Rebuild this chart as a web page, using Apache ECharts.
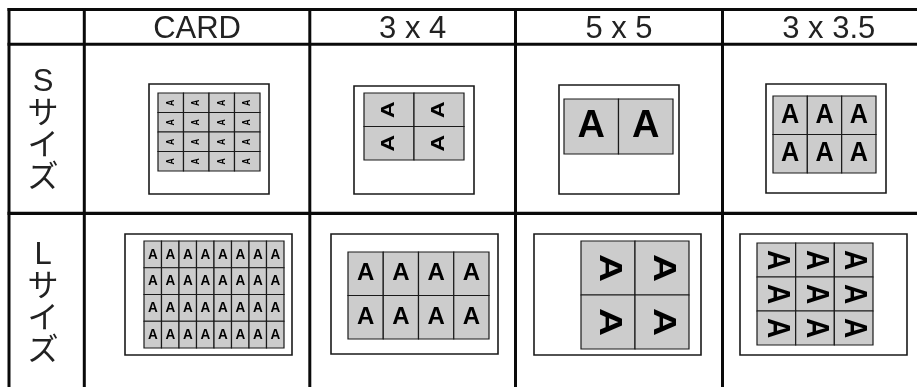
<!DOCTYPE html>
<html><head><meta charset="utf-8">
<script src="https://cdn.jsdelivr.net/npm/echarts@6/dist/echarts.min.js"></script>
<style>html,body{margin:0;padding:0;background:#fff}#c{width:917px;height:387px}</style>
</head><body><div id="c"></div>
<script>
// ---------------- data ----------------
const columnLabels = ['CARD', '3 x 4', '5 x 5', '3 x 3.5'];
const rowLabels = ['Sサイズ', 'Lサイズ'];
// photos per sheet (across x down) and letter turn for the S sheet
const smallAcross = [4, 2, 2, 3];
const smallDown   = [4, 2, 1, 2];
const smallTurn   = [90, 90, 0, 0];
// photos per sheet and letter turn for the L sheet
const largeAcross = [8, 4, 2, 3];
const largeDown   = [4, 2, 2, 3];
const largeTurn   = [0, 0, -90, -90];
const photoLetter = 'A';

// ---------------- layout (positions / sizes / styles) ----------------
const colEdges = [9, 84.3, 309.8, 515.5, 722.5, 935];
const rowEdges = [9.5, 44.2, 213.3, 390];
const paperBox = [
  [[149, 84, 269, 194], [354, 86, 474, 194], [559, 85, 679, 194], [766, 84, 886, 193]],
  [[125, 234, 292, 355], [331, 234, 498, 354], [534, 234, 701, 355], [740, 234, 907, 355]]
];
const gridBox = [
  [[158, 93, 260, 171], [364, 93, 464, 160], [564, 99, 673, 154], [773, 96, 876, 173]],
  [[144, 241, 284, 348], [348, 252, 489, 339], [581, 241, 689, 349], [757, 243, 873, 345]]
];
const letterFont = [[11, 23, 38, 28], [15, 24, 39, 28]];
const letterScale = [
  [[0.8, 1], [1, 0.79], [1, 1], [0.9, 1]],
  [[0.9, 1], [1, 1], [1, 0.79], [1, 1.1]]
];
const LATIN = "'Liberation Sans', Arial, sans-serif";
const MIXED = "'Liberation Sans', 'Noto Sans CJK JP', sans-serif";

// ---------------- build series data ----------------
const cellData = [];
for (let c = 0; c < columnLabels.length; c++) {
  cellData.push([0, c, smallAcross[c], smallDown[c], smallTurn[c]]);
  cellData.push([1, c, largeAcross[c], largeDown[c], largeTurn[c]]);
}
const headerData = columnLabels.map((t, i) => [i]);
const rowData = rowLabels.map((t, i) => [i]);

function renderFrame(params, api) {
  const kids = [];
  const right = api.coord([917, 0])[0];
  const bottom = api.coord([0, 387])[1];
  const lw = [3, 3, 3.2];
  for (let i = 0; i < 3; i++) {
    const y = api.coord([0, rowEdges[i]])[1];
    const x0 = api.coord([colEdges[0] - 1.5, 0])[0];
    kids.push({type: 'line', shape: {x1: x0, y1: y, x2: right, y2: y},
      style: {stroke: '#0a0a0a', lineWidth: lw[i]}});
  }
  for (let i = 0; i < 5; i++) {
    const x = api.coord([colEdges[i], 0])[0];
    const y0 = api.coord([0, rowEdges[0] - 1.5])[1];
    kids.push({type: 'line', shape: {x1: x, y1: y0, x2: x, y2: bottom},
      style: {stroke: '#0a0a0a', lineWidth: 3}});
  }
  return {type: 'group', children: kids};
}

function renderHeader(params, api) {
  const i = api.value(0);
  const cx = api.coord([(colEdges[i + 1] + colEdges[i + 2]) / 2, 29.5]);
  return {type: 'text', x: cx[0], y: cx[1],
    style: {text: columnLabels[i], fontSize: 31, fontFamily: LATIN,
      fill: '#222', align: 'center', verticalAlign: 'middle'}};
}

function renderRowLabel(params, api) {
  const i = api.value(0);
  const p = api.coord([43, (rowEdges[i + 1] + rowEdges[i + 2]) / 2 + 1.5]);
  return {type: 'text', x: p[0], y: p[1],
    style: {text: Array.from(rowLabels[i]).join('\n'), fontSize: 31, lineHeight: 32,
      fontFamily: MIXED, fill: '#222', align: 'center', verticalAlign: 'middle'}};
}

function renderCell(params, api) {
  const r = api.value(0), c = api.value(1);
  const nx = api.value(2), ny = api.value(3), turn = api.value(4);
  const pb = paperBox[r][c], gb = gridBox[r][c];
  const p0 = api.coord([pb[0], pb[1]]), p1 = api.coord([pb[2], pb[3]]);
  const g0 = api.coord([gb[0], gb[1]]), g1 = api.coord([gb[2], gb[3]]);
  const kids = [{type: 'rect',
    shape: {x: p0[0], y: p0[1], width: p1[0] - p0[0], height: p1[1] - p0[1]},
    style: {fill: '#fff', stroke: '#1a1a1a', lineWidth: 1.6}}];
  const cw = (g1[0] - g0[0]) / nx, ch = (g1[1] - g0[1]) / ny;
  const sc = letterScale[r][c];
  for (let j = 0; j < ny; j++) {
    for (let i = 0; i < nx; i++) {
      const x = g0[0] + i * cw, y = g0[1] + j * ch;
      kids.push({type: 'rect', shape: {x: x, y: y, width: cw, height: ch},
        style: {fill: '#cccccc', stroke: '#1a1a1a', lineWidth: 1.2}});
      kids.push({type: 'text', x: x + cw / 2, y: y + ch / 2,
        rotation: turn * Math.PI / 180, scaleX: sc[0], scaleY: sc[1],
        style: {text: photoLetter, fontSize: letterFont[r][c], fontWeight: 'bold',
          fontFamily: LATIN, fill: '#000', align: 'center', verticalAlign: 'middle'}});
    }
  }
  return {type: 'group', children: kids};
}

const chart = echarts.init(document.getElementById('c'), null, {renderer: 'canvas'});
chart.setOption({
  animation: false,
  backgroundColor: '#fff',
  grid: {left: 0, right: 0, top: 0, bottom: 0},
  xAxis: {type: 'value', min: 0, max: 917, show: false},
  yAxis: {type: 'value', min: 0, max: 387, inverse: true, show: false},
  series: [
    {type: 'custom', name: 'frame', data: [[0, 0]], renderItem: renderFrame, silent: true, clip: false},
    {type: 'custom', name: 'headers', data: headerData, renderItem: renderHeader, silent: true,
      encode: {x: 0, y: 0}},
    {type: 'custom', name: 'rows', data: rowData, renderItem: renderRowLabel, silent: true,
      encode: {x: 0, y: 0}},
    {type: 'custom', name: 'sheets', data: cellData, renderItem: renderCell, silent: true,
      encode: {x: 0, y: 1}}
  ]
});
</script></body></html>
